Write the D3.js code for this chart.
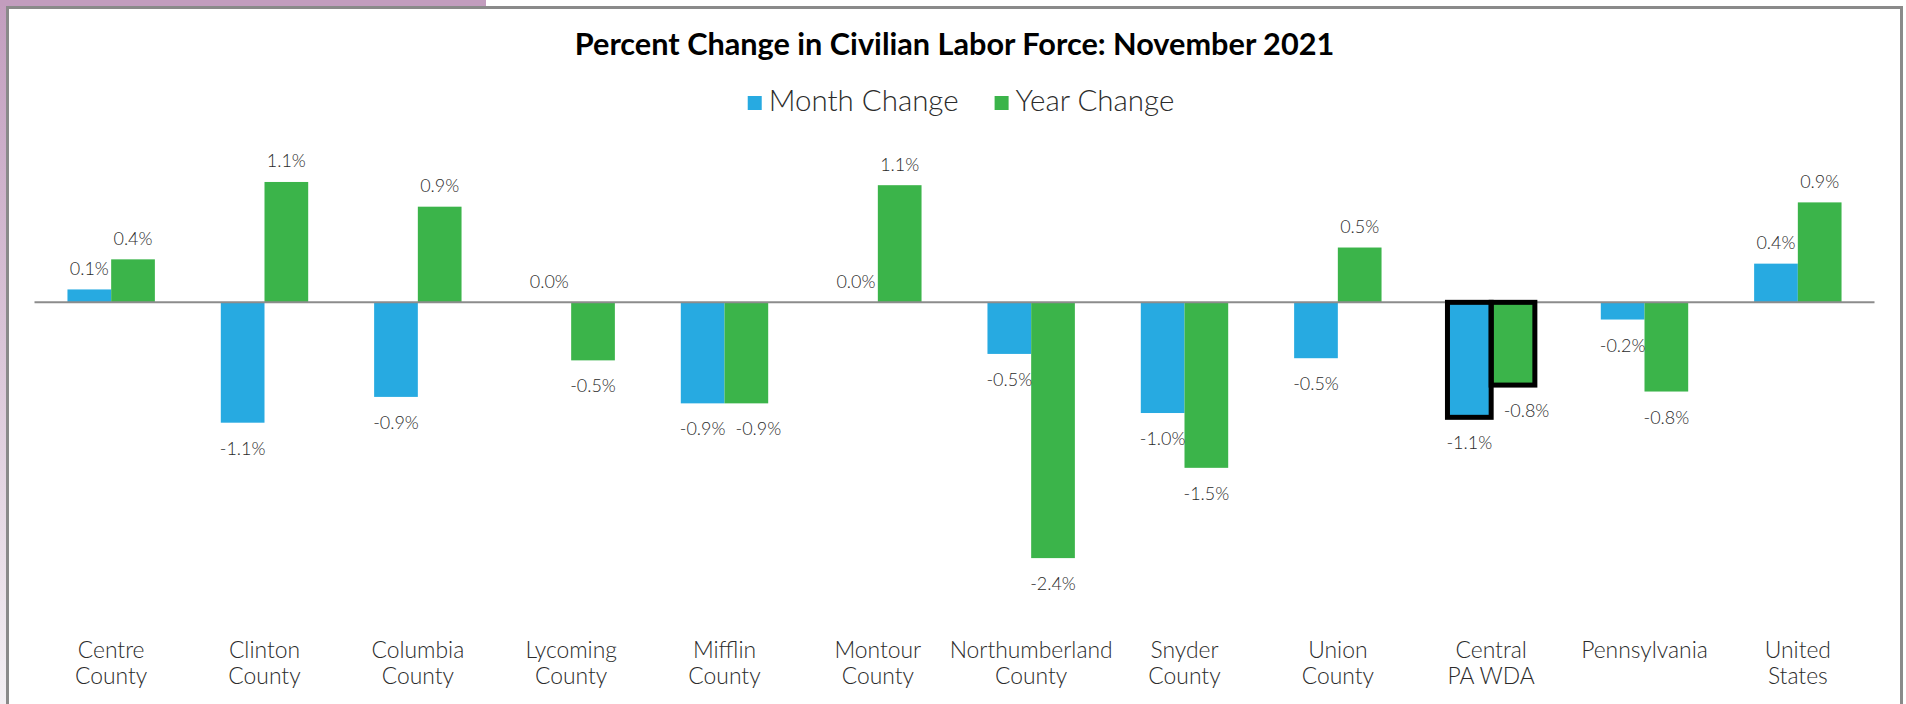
<!DOCTYPE html>
<html>
<head>
<meta charset="utf-8">
<script src="https://cdn.jsdelivr.net/npm/d3@7"></script>
<style>
  html, body { margin: 0; padding: 0; background: #fff; }
  svg { display: block; }
</style>
</head>
<body>
<svg id="chart"></svg>
<script>
// values, in percent
var categories = ['Centre County', 'Clinton County', 'Columbia County', 'Lycoming County', 'Mifflin County',
    'Montour County', 'Northumberland County', 'Snyder County', 'Union County', 'Central PA WDA',
    'Pennsylvania', 'United States'];
var monthChange = [0.12, -1.12, -0.88, 0.0, -0.94, 0.0, -0.48, -1.03, -0.52, -1.07, -0.16, 0.36];
var yearChange = [0.40, 1.12, 0.89, -0.54, -0.94, 1.09, -2.38, -1.54, 0.51, -0.77, -0.83, 0.93];
var seriesNames = ['Month Change', 'Year Change'];
var seriesColors = ['#27aae1', '#3bb44a'];
var highlighted = 'Central PA WDA';
var chartTitle = 'Percent Change in Civilian Labor Force: November 2021';

var width = 1906,
    height = 704;
var FONT = 'Lato, "Noto Sans", sans-serif',
    LIGHT = 300,
    TEXT = '#2b2b2b';

var svg = d3.select('#chart').attr('width', width).attr('height', height);

// pick a font size so a sample string comes out at the width seen in the picture
function fitSize(str, weight, target) {
    var t = svg.append('text')
        .attr('font-family', FONT)
        .attr('font-weight', weight)
        .attr('font-size', 100)
        .text(str);
    var w = t.node().getComputedTextLength();
    t.remove();
    return 100 * target / w;
}

var titleSize = fitSize(chartTitle, 'bold', 760),
    legendSize = fitSize('Month Change', LIGHT, 190),
    catSize = fitSize('Northumberland', LIGHT, 163),
    valueSize = fitSize('-0.9%', LIGHT, 45.7);

// frame: purple page edge + grey chart border
var defs = svg.append('defs');
var grad = defs.append('linearGradient')
    .attr('id', 'edge')
    .attr('x1', 0).attr('y1', 0).attr('x2', 0).attr('y2', 1);
grad.append('stop').attr('offset', '0%').attr('stop-color', '#c29dbe');
grad.append('stop').attr('offset', '100%').attr('stop-color', '#f3eff3');

svg.append('rect').attr('x', 0).attr('y', 0).attr('width', 6).attr('height', height).attr('fill', 'url(#edge)');
svg.append('rect').attr('x', 0).attr('y', 0).attr('width', 486).attr('height', 6).attr('fill', '#c29dbe');
svg.append('rect')
    .attr('x', 7.5).attr('y', 7.5)
    .attr('width', 1894).attr('height', height + 20)
    .attr('fill', '#fff')
    .attr('stroke', '#8a8a8a')
    .attr('stroke-width', 3);

// scales
var x = d3.scaleBand()
    .domain(categories)
    .range([34.5, 1874.5])
    .paddingInner(0.43)
    .paddingOuter(0.215);

var xs = d3.scaleBand()
    .domain(seriesNames)
    .range([0, x.bandwidth()]);

var y = d3.scaleLinear()
    .domain([-2.5, 1.25])
    .range([571, 168]);

var bars = [];
categories.forEach(function(c, i) {
    bars.push({ cat: c, series: seriesNames[0], color: seriesColors[0], value: monthChange[i] });
    bars.push({ cat: c, series: seriesNames[1], color: seriesColors[1], value: yearChange[i] });
});

// title
svg.append('text')
    .attr('x', (x.range()[0] + x.range()[1]) / 2)
    .attr('y', 55)
    .attr('text-anchor', 'middle')
    .attr('font-family', FONT)
    .attr('font-weight', 'bold')
    .attr('font-size', titleSize)
    .attr('fill', '#000')
    .text(chartTitle);

// legend
var legend = svg.append('g').attr('transform', 'translate(0,110.5)');
var items = legend.selectAll('g')
    .data(seriesNames)
    .join('g');
items.append('rect')
    .attr('y', -14.5)
    .attr('width', 14)
    .attr('height', 14)
    .attr('fill', (d, i) => seriesColors[i]);
items.append('text')
    .attr('x', 21)
    .attr('font-family', FONT)
    .attr('font-weight', LIGHT)
    .attr('font-size', legendSize)
    .attr('fill', TEXT)
    .text(d => d);

var offsets = [], total = 0;
items.nodes().forEach(function(node, i) {
    var w = 21 + d3.select(node).select('text').node().getComputedTextLength();
    offsets.push(total);
    total += w + (i < seriesNames.length - 1 ? 36 : 0);
});
var legendStart = 961 - total / 2;
items.attr('transform', (d, i) => 'translate(' + (legendStart + offsets[i]) + ',0)');

// bars
svg.append('g')
    .selectAll('rect')
    .data(bars)
    .join('rect')
    .attr('x', d => x(d.cat) + xs(d.series))
    .attr('y', d => y(Math.max(0, d.value)))
    .attr('width', xs.bandwidth())
    .attr('height', d => Math.abs(y(d.value) - y(0)))
    .attr('fill', d => d.color);

// zero line
svg.append('line')
    .attr('x1', x.range()[0])
    .attr('x2', x.range()[1])
    .attr('y1', y(0))
    .attr('y2', y(0))
    .attr('stroke', '#8c8c8c')
    .attr('stroke-width', 2);

// black outline on the highlighted region
var outlineWidth = 5;
svg.append('g')
    .selectAll('rect')
    .data(bars.filter(d => d.cat === highlighted))
    .join('rect')
    .attr('x', d => x(d.cat) + xs(d.series))
    .attr('y', d => y(Math.max(0, d.value)))
    .attr('width', xs.bandwidth())
    .attr('height', d => Math.abs(y(d.value) - y(0)))
    .attr('fill', 'none')
    .attr('stroke', '#000')
    .attr('stroke-width', outlineWidth);

// value labels
var labels = svg.append('g')
    .selectAll('text')
    .data(bars)
    .join('text')
    .attr('x', d => x(d.cat) + xs(d.series) + xs.bandwidth() / 2)
    .attr('y', d => d.value >= 0 ? y(d.value) - 14.5 : y(d.value) + 32)
    .attr('text-anchor', 'middle')
    .attr('font-family', FONT)
    .attr('font-weight', LIGHT)
    .attr('font-size', valueSize)
    .attr('fill', TEXT)
    .text(d => d.value.toFixed(1) + '%');

// nudge the Year label right when it would run into the Month label or an outline
var gap = 10;
labels.filter(d => d.series === seriesNames[1]).each(function(d) {
    var me = this.getBBox();
    var month = labels.filter(m => m.cat === d.cat && m.series === seriesNames[0]).node().getBBox();
    var shift = 0;
    var sameRow = me.y < month.y + month.height && month.y < me.y + me.height;
    if (sameRow && me.x < month.x + month.width + gap) shift = month.x + month.width + gap - me.x;
    if (d.cat === highlighted) {
        var bx = x(d.cat) + xs(d.series) + outlineWidth / 2;
        if (me.x < bx + gap) shift = Math.max(shift, bx + gap - me.x);
    }
    if (shift) d3.select(this).attr('x', +d3.select(this).attr('x') + shift);
});

// category labels, wrapped after the first word
var cats = svg.append('g')
    .selectAll('text')
    .data(categories)
    .join('text')
    .attr('text-anchor', 'middle')
    .attr('font-family', FONT)
    .attr('font-weight', LIGHT)
    .attr('font-size', catSize)
    .attr('fill', TEXT);

cats.each(function(d) {
    var cx = x(d) + x.bandwidth() / 2;
    var k = d.indexOf(' ');
    var lines = k < 0 ? [d] : [d.slice(0, k), d.slice(k + 1)];
    d3.select(this).selectAll('tspan')
        .data(lines)
        .join('tspan')
        .attr('x', cx)
        .attr('y', (l, i) => 658 + i * 25.5)
        .text(l => l);
});
</script>
</body>
</html>
